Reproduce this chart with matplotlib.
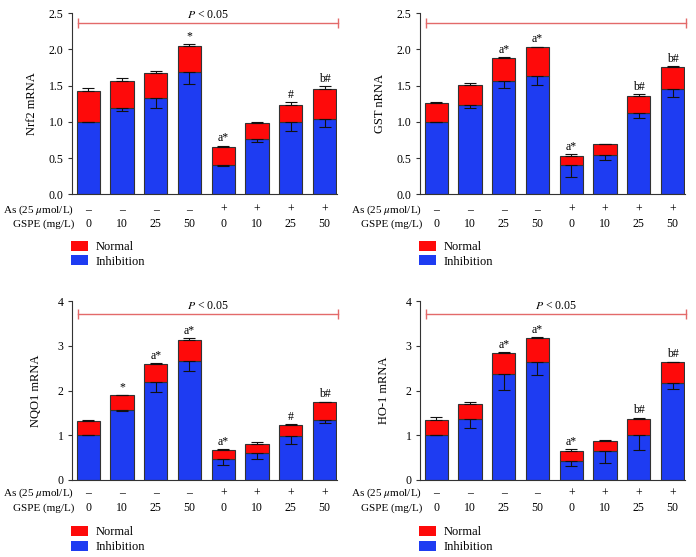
import numpy as np
import matplotlib.pyplot as plt
from matplotlib.patches import Patch

plt.rcParams['font.family'] = ['Liberation Serif', 'DejaVu Serif']
plt.rcParams['mathtext.fontset'] = 'stix'

# groups on the x axis
as_signs = ['–', '–', '–', '–', '+', '+', '+', '+']
gspe_doses = ['0', '10', '25', '50', '0', '10', '25', '50']

# Nrf2
nrf2_inhib = [1.00, 1.19, 1.33, 1.69, 0.41, 0.76, 1.00, 1.04]
nrf2_inhib_err = [0.00, 0.04, 0.14, 0.16, 0.02, 0.04, 0.13, 0.11]
nrf2_normal = [0.42, 0.37, 0.34, 0.36, 0.24, 0.22, 0.24, 0.41]
nrf2_normal_err = [0.05, 0.05, 0.03, 0.03, 0.02, 0.02, 0.03, 0.04]
nrf2_marks = ['', '', '', '*', 'a*', '', '#', 'b#']

# GST
gst_inhib = [1.00, 1.24, 1.57, 1.64, 0.40, 0.54, 1.12, 1.45]
gst_inhib_err = [0.00, 0.05, 0.10, 0.13, 0.16, 0.07, 0.07, 0.10]
gst_normal = [0.26, 0.27, 0.31, 0.39, 0.13, 0.15, 0.24, 0.31]
gst_normal_err = [0.01, 0.03, 0.01, 0.01, 0.02, 0.01, 0.02, 0.01]
gst_marks = ['', '', 'a*', 'a*', 'a*', '', 'b#', 'b#']

# NQO1
nqo1_inhib = [1.00, 1.56, 2.20, 2.67, 0.48, 0.60, 0.99, 1.33]
nqo1_inhib_err = [0.00, 0.02, 0.24, 0.23, 0.15, 0.12, 0.19, 0.06]
nqo1_normal = [0.32, 0.34, 0.40, 0.46, 0.20, 0.21, 0.24, 0.41]
nqo1_normal_err = [0.01, 0.01, 0.01, 0.04, 0.01, 0.03, 0.02, 0.01]
nqo1_marks = ['', '*', 'a*', 'a*', 'a*', '', '#', 'b#']

# HO-1
ho1_inhib = [1.00, 1.37, 2.37, 2.63, 0.43, 0.65, 1.01, 2.16]
ho1_inhib_err = [0.00, 0.20, 0.36, 0.28, 0.11, 0.27, 0.33, 0.12]
ho1_normal = [0.35, 0.33, 0.46, 0.55, 0.22, 0.23, 0.36, 0.47]
ho1_normal_err = [0.05, 0.04, 0.02, 0.01, 0.04, 0.02, 0.02, 0.01]
ho1_marks = ['', '', 'a*', 'a*', 'a*', '', 'b#', 'b#']

panels = [
    ('Nrf2 mRNA', nrf2_inhib, nrf2_inhib_err, nrf2_normal, nrf2_normal_err, nrf2_marks),
    ('GST nRNA', gst_inhib, gst_inhib_err, gst_normal, gst_normal_err, gst_marks),
    ('NQO1 mRNA', nqo1_inhib, nqo1_inhib_err, nqo1_normal, nqo1_normal_err, nqo1_marks),
    ('HO-1 mRNA', ho1_inhib, ho1_inhib_err, ho1_normal, ho1_normal_err, ho1_marks),
]

red = '#fe0a0a'
blue = '#1e3cf2'
pline = '#e36a6a'

W, H = 696, 557
fig = plt.figure(figsize=(W / 100, H / 100), dpi=100)

def px_rect(l, t, r, b):
    return [l / W, 1 - b / H, (r - l) / W, (b - t) / H]

# left, top, right, bottom in pixels; ymax, yticks, p-line y, show p text, label x, row offsets
layout = [
    ((71.7, 13.3, 337, 194.3), 2.5, np.arange(0, 2.51, 0.5), 2.36, True, -0.127, (11.2, 21.6)),
    ((419.7, 13.3, 685, 194.3), 2.5, np.arange(0, 2.51, 0.5), 2.36, False, -0.127, (11.2, 21.6)),
    ((71.7, 301, 337, 480), 4, np.arange(0, 4.1, 1), 3.70, True, -0.113, (9.6, 20.4)),
    ((419.7, 301, 685, 480), 4, np.arange(0, 4.1, 1), 3.70, True, -0.113, (9.6, 20.4)),
]

x = np.arange(8)
zeros = np.zeros(8)

for (name, inhib, inhib_err, normal, normal_err, marks), lay in zip(panels, layout):
    rect, ymax, yticks, py, ptext, labx, offs = lay
    ax = fig.add_axes(px_rect(*rect))
    inhib = np.array(inhib)
    normal = np.array(normal)
    total = inhib + normal

    ax.bar(x, inhib, width=0.69, color=blue, edgecolor='#333333', linewidth=0.8)
    ax.bar(x, normal, width=0.69, bottom=inhib, color=red, edgecolor='#333333', linewidth=0.8)
    ax.errorbar(x, inhib, yerr=[inhib_err, zeros], fmt='none', ecolor='#111111',
                elinewidth=0.8, capsize=4, capthick=0.8)
    ax.errorbar(x, total, yerr=[zeros, normal_err], fmt='none', ecolor='#111111',
                elinewidth=0.8, capsize=4, capthick=0.8)

    for i in range(8):
        if marks[i]:
            ax.annotate(marks[i], xy=(i, total[i] + normal_err[i]), xytext=(0, 1),
                        textcoords='offset points', ha='center', va='bottom', fontsize=8.5)
        ax.annotate(as_signs[i], xy=(i, 0), xycoords=('data', 'axes fraction'),
                    xytext=(0, -offs[0]), textcoords='offset points',
                    ha='center', va='center', fontsize=8.5, annotation_clip=False)
        ax.annotate(gspe_doses[i], xy=(i, 0), xycoords=('data', 'axes fraction'),
                    xytext=(0, -offs[1]), textcoords='offset points',
                    ha='center', va='center', fontsize=8.5, annotation_clip=False)

    ax.annotate('As (25 $\\mu$mol/L)', xy=(0.01, 0), xycoords='axes fraction',
                xytext=(0, -offs[0]), textcoords='offset points',
                ha='right', va='center', fontsize=8, annotation_clip=False)
    ax.annotate('GSPE (mg/L)', xy=(0.01, 0), xycoords='axes fraction',
                xytext=(0, -offs[1]), textcoords='offset points',
                ha='right', va='center', fontsize=8, annotation_clip=False)

    # significance bracket
    ax.plot([-0.3, 7.4], [py, py], color=pline, lw=1, marker='|', markersize=7,
            markeredgewidth=1, clip_on=False)
    if ptext:
        ax.text(3.55, py + ymax * 0.015, '$P$ < 0.05', ha='center', va='bottom', fontsize=8.5)

    ax.set_xlim(-0.49, 7.37)
    ax.set_ylim(0, ymax)
    ax.set_yticks(yticks)
    ax.set_xticks([])
    ax.spines['top'].set_visible(False)
    ax.spines['right'].set_visible(False)
    for s in ['left', 'bottom']:
        ax.spines[s].set_color('#333333')
        ax.spines[s].set_linewidth(0.8)
    ax.tick_params(axis='y', direction='out', length=3, width=0.8, labelsize=8.5, pad=3,
                   color='#333333')
    ax.set_ylabel(name, fontsize=9)
    ax.yaxis.set_label_coords(labx, 0.5)

    handles = [Patch(facecolor=red, edgecolor='none', label='Normal'),
               Patch(facecolor=blue, edgecolor='none', label='Inhibition')]
    ax.legend(handles=handles, loc='upper left', bbox_to_anchor=(-0.003, -0.256),
              frameon=False, fontsize=9, borderpad=0, borderaxespad=0,
              handlelength=1.4, handleheight=0.85, handletextpad=0.55, labelspacing=0.2)

plt.savefig('out.png', dpi=100)
